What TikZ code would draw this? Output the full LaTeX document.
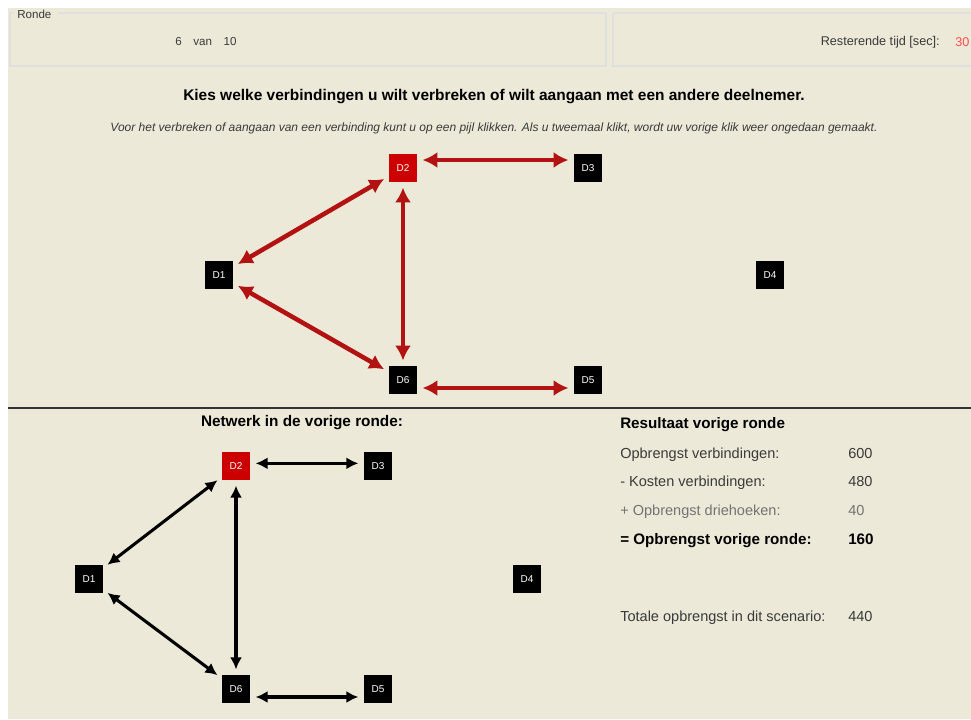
\documentclass[tikz,border=0pt]{standalone}
\usepackage{fontspec}
\setmainfont{Liberation Sans}
\usetikzlibrary{arrows.meta}
\definecolor{panel}{HTML}{ECE9D8}
\definecolor{linkred}{HTML}{B31212}
\definecolor{boxred}{HTML}{CC0000}
\definecolor{txtgray}{HTML}{3A3A3A}
\tikzset{player/.style={fill=black, text=white, minimum size=21pt, inner sep=0pt, font=\fontsize{7.5}{8}\selectfont},
         chosen/.style={player, fill=boxred},
         redlink/.style={linkred, line width=3.4pt, {Latex[length=11pt,width=12pt]}-{Latex[length=11pt,width=12pt]}, shorten >=4pt, shorten <=4pt},
         blacklink/.style={black, line width=2.3pt, {Latex[length=9pt,width=9pt]}-{Latex[length=9pt,width=9pt]}, shorten >=4pt, shorten <=4pt},
         rowtext/.style={anchor=base west, text=txtgray, inner sep=0pt, font=\fontsize{10.9}{12}\selectfont},
         rowbold/.style={rowtext, text=black, font=\bfseries\fontsize{11.4}{13}\selectfont}}

\begin{document}
\begin{tikzpicture}[x=0.75pt,y=-0.75pt]
  \useasboundingbox (0,0) rectangle (971,719);
  \fill[white] (0,0) rectangle (971,719);
  \fill[panel] (8,8) rectangle (971,719);
  % bovenste balk
  \draw[black!12,line width=1pt] (58,13) -- (606,13) -- (606,66) -- (10,66) -- (10,13) -- (13,13);
  \draw[black!12,line width=1pt] (613,13) -- (971,13);
  \draw[black!12,line width=1pt] (613,13) -- (613,66) -- (971,66);
  \node[anchor=west,inner sep=0pt,text=txtgray,font=\fontsize{8.7}{10}\selectfont] (ronde) at (17,14) {Ronde};
  \node[anchor=west,inner sep=0pt,text=txtgray,font=\fontsize{8.7}{10}\selectfont] (teller) at (175,42) {6\quad van\quad 10};
  \node[anchor=east,inner sep=0pt,text=txtgray,font=\fontsize{9.5}{11}\selectfont] (tijd) at (940,42) {Resterende tijd [sec]:};
  \node[anchor=west,inner sep=0pt,text=red!70,font=\fontsize{9.5}{11}\selectfont] (sec) at (955,42) {30};
  % keuzescherm
  \node[inner sep=0pt,font=\bfseries\fontsize{11.6}{13}\selectfont] (titel) at (494,97)
    {Kies welke verbindingen u wilt verbreken of wilt aangaan met een andere deelnemer.};
  \node[inner sep=0pt,text=txtgray,font=\itshape\fontsize{9}{10}\selectfont] (uitleg) at (494,128)
    {Voor het verbreken of aangaan van een verbinding kunt u op een pijl klikken. Als u tweemaal klikt, wordt uw vorige klik weer ongedaan gemaakt.};
  \node[chosen] (a2) at (403,168) {D2};
  \node[player] (a3) at (588,168) {D3};
  \node[player] (a1) at (219,275) {D1};
  \node[player] (a4) at (770,275) {D4};
  \node[player] (a6) at (403,380) {D6};
  \node[player] (a5) at (588,380) {D5};
  \draw[redlink] ([yshift=6pt]a2.east) -- ([yshift=6pt]a3.west);
  \draw[redlink] (a2) -- (a1);
  \draw[redlink] (a1) -- (a6);
  \draw[redlink] (a2) -- (a6);
  \draw[redlink] ([yshift=-6pt]a6.east) -- ([yshift=-6pt]a5.west);
  \draw[black!80,line width=1.5pt] (8,408) -- (971,408);
  % vorige ronde
  \node[inner sep=0pt,font=\bfseries\fontsize{11.5}{13}\selectfont] (netwerk) at (302,423) {Netwerk in de vorige ronde:};
  \node[chosen] (b2) at (236,466) {D2};
  \node[player] (b3) at (378,466) {D3};
  \node[player] (b1) at (89,579) {D1};
  \node[player] (b4) at (527,579) {D4};
  \node[player] (b6) at (236,689) {D6};
  \node[player] (b5) at (378,689) {D5};
  \draw[blacklink] ([yshift=2pt]b2.east) -- ([yshift=2pt]b3.west);
  \draw[blacklink] (b2) -- (b1);
  \draw[blacklink] (b1) -- (b6);
  \draw[blacklink] (b2) -- (b6);
  \draw[blacklink] ([yshift=-6pt]b6.east) -- ([yshift=-6pt]b5.west);
  % resultaat
  \node[rowbold] (res) at (620,428) {Resultaat vorige ronde};
  \node[rowtext] (r1) at (620,458) {Opbrengst verbindingen:};
  \node[rowtext] (v1) at (848,458) {600};
  \node[rowtext] (r2) at (620,486) {- Kosten verbindingen:};
  \node[rowtext] (v2) at (848,486) {480};
  \node[rowtext,text=black!55] (r3) at (620,515) {+ Opbrengst driehoeken:};
  \node[rowtext,text=black!55] (v3) at (848,515) {40};
  \node[rowbold] (r4) at (620,544) {= Opbrengst vorige ronde:};
  \node[rowbold] (v4) at (848,544) {160};
  \node[rowtext] (r5) at (620,621) {Totale opbrengst in dit scenario:};
  \node[rowtext] (v5) at (848,621) {440};
\end{tikzpicture}
\end{document}
